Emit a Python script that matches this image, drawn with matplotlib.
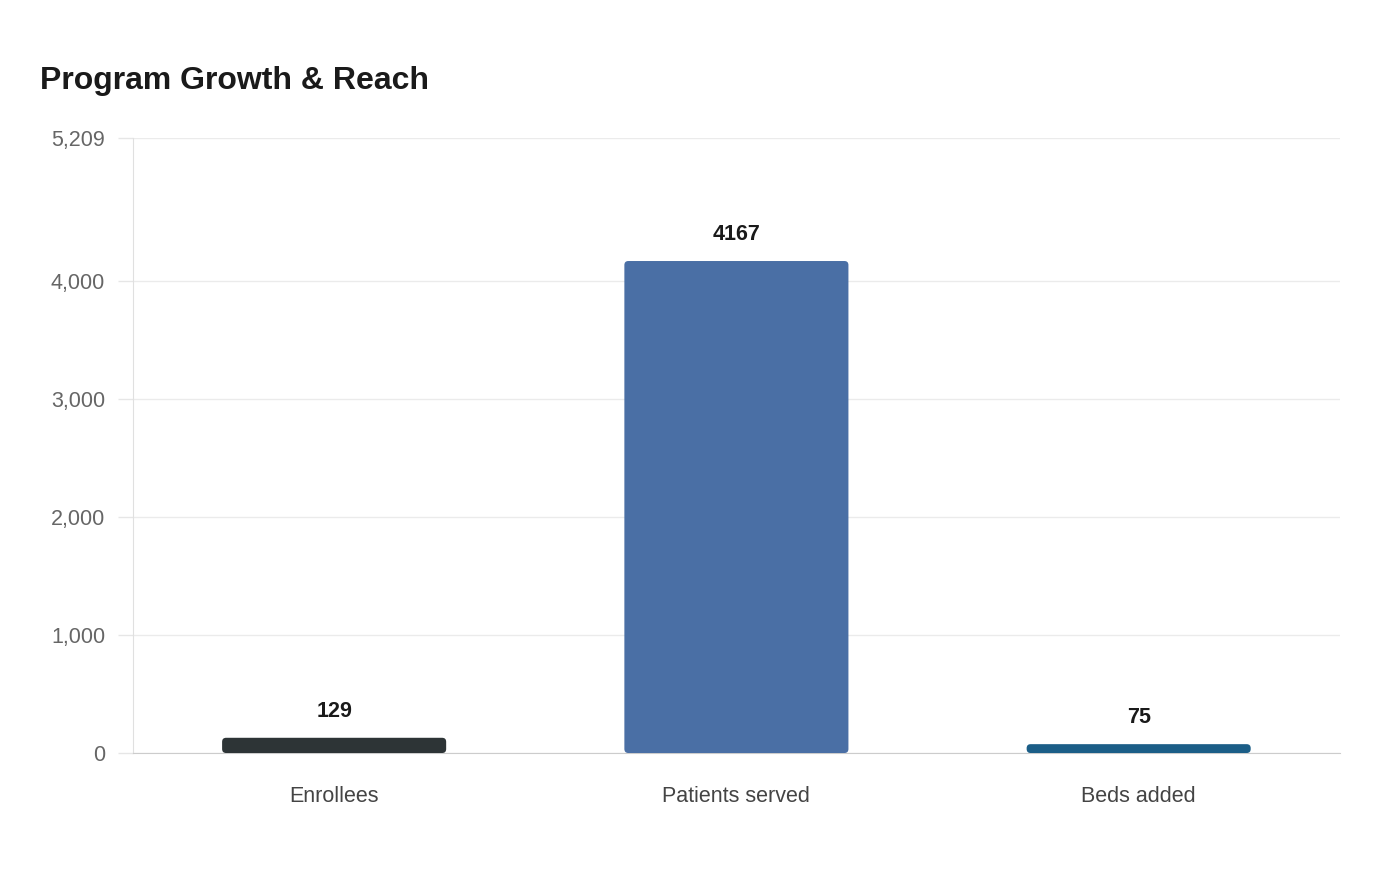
import numpy as np
import matplotlib
matplotlib.use('Agg')
import matplotlib.pyplot as plt
from matplotlib.patches import FancyBboxPatch
from matplotlib.ticker import FuncFormatter

categories = ['Enrollees', 'Patients served', 'Beds added']
values = [129, 4167, 75]
colors = ['#2d3436', '#4a6fa5', '#1b5e87']
y_max = 5209
y_ticks = [0, 1000, 2000, 3000, 4000, 5209]

plt.rcParams['font.family'] = ['Liberation Sans', 'DejaVu Sans']

fig = plt.figure(figsize=(14, 8.8), dpi=100)
ax = fig.add_axes([0.095, 0.1443, 0.862, 0.6989])

x = np.arange(len(categories))
bar_w = 0.557
ax.set_xlim(-0.5, len(categories) - 0.5)
ax.set_ylim(0, y_max)

# data units per pixel, for round corners that look round
bbox = ax.get_window_extent()
x_per_px = (len(categories)) / bbox.width
y_per_px = y_max / bbox.height
r_px = 4
for xi, v, c in zip(x, values, colors):
    p = FancyBboxPatch((xi - bar_w / 2, 0), bar_w, v,
                       boxstyle=f'round,pad=0,rounding_size={r_px * x_per_px}',
                       mutation_aspect=y_per_px / x_per_px,
                       facecolor=c, edgecolor='none', zorder=3)
    ax.add_patch(p)
    ax.text(xi, v + 16 * y_per_px, str(v), ha='center', va='bottom',
            fontsize=15.5, fontweight='bold', color='#1a1a1a', zorder=4)

ax.set_xticks(x)
ax.set_xticklabels(categories, fontsize=15.5, color='#444444')
ax.set_yticks(y_ticks)
ax.yaxis.set_major_formatter(FuncFormatter(lambda v, _: f'{int(v):,}'))
ax.tick_params(axis='y', labelsize=15.5, labelcolor='#666666', length=11,
               color='#e6e6e6', width=1, pad=9)
ax.tick_params(axis='x', length=0, pad=24)
ax.grid(axis='y', color='#ebebeb', linewidth=1, zorder=0)
ax.set_axisbelow(True)

for s in ['top', 'right']:
    ax.spines[s].set_visible(False)
ax.spines['left'].set_color('#e0e0e0')
ax.spines['bottom'].set_color('#cccccc')

fig.text(40 / 1400, 1 - 81 / 880, 'Program Growth & Reach', fontsize=23,
         fontweight='bold', color='#1a1a1a', ha='left', va='center')

fig.savefig('out.png', dpi=100, facecolor='white')
